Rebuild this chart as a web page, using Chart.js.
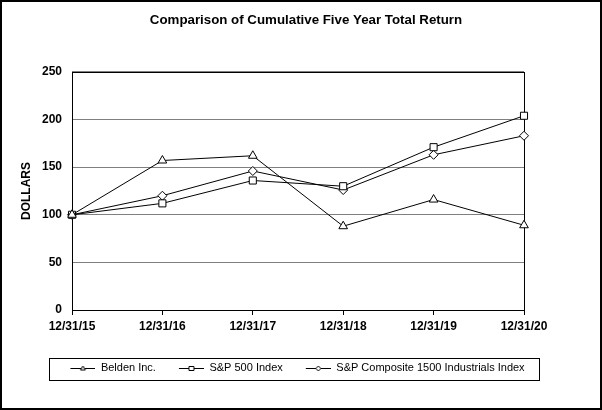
<!DOCTYPE html>
<html>
<head>
<meta charset="utf-8">
<script src="https://cdn.jsdelivr.net/npm/chart.js@4"></script>
<style>
  body { margin: 0; background: #fff; }
  #wrap { width: 602px; height: 410px; }
</style>
</head>
<body>
<div id="wrap"><canvas id="returns" width="602" height="410"></canvas></div>
<script>
// values
const years = ['12/31/15', '12/31/16', '12/31/17', '12/31/18', '12/31/19', '12/31/20'];
const belden = [100, 157, 162, 88, 116, 89];
const sp500 = [100, 112, 136, 130, 171, 204];
const sp1500Ind = [100, 120, 146, 126, 163, 183];
const seriesNames = ['Belden Inc.', 'S&P 500 Index', 'S&P Composite 1500 Industrials Index'];
const yTicks = [0, 50, 100, 150, 200, 250];

Chart.defaults.font.family = 'Arial, "Liberation Sans", sans-serif';
Chart.defaults.color = '#000';

// little line + marker used as legend symbol
function legendMark(shape) {
  const c = document.createElement('canvas');
  c.width = 38; c.height = 10;
  const g = c.getContext('2d');
  g.strokeStyle = '#000';
  g.lineWidth = 1;
  g.beginPath(); g.moveTo(13, 5.5); g.lineTo(38, 5.5); g.stroke();
  g.fillStyle = '#fff';
  g.beginPath();
  const cx = 25.5, cy = 5.5;
  if (shape == 'triangle') {
    g.moveTo(cx, cy - 2.5); g.lineTo(cx + 2.5, cy + 1.5); g.lineTo(cx - 2.5, cy + 1.5);
  } else if (shape == 'rect') {
    g.rect(cx - 2.5, cy - 2, 5, 4);
  } else {
    g.moveTo(cx, cy - 2.5); g.lineTo(cx + 2.5, cy); g.lineTo(cx, cy + 2.5); g.lineTo(cx - 2.5, cy);
  }
  g.closePath(); g.fill(); g.stroke();
  return c;
}
const legendMarks = [legendMark('triangle'), legendMark('rect'), legendMark('diamond')];

// plot box, legend box and outer frame
const frames = {
  id: 'frames',
  afterLayout(chart) {
    // legend in the original sits a bit left of the page centre
    chart.legend.left -= 15;
    chart.legend.right -= 15;
  },
  beforeDatasetsDraw(chart) {
    const a = chart.chartArea, ctx = chart.ctx;
    ctx.save();
    ctx.strokeStyle = '#000';
    ctx.lineWidth = 1;
    ctx.strokeRect(Math.round(a.left) + 0.5, Math.round(a.top) + 0.5,
      Math.round(a.right - a.left), Math.round(a.bottom - a.top));
    ctx.restore();
  },
  afterDraw(chart) {
    const a = chart.chartArea, lg = chart.legend, ctx = chart.ctx;
    ctx.save();
    ctx.strokeStyle = '#000';
    ctx.lineWidth = 1;
    ctx.strokeRect(Math.round(a.left) - 22.5, Math.round(lg.top + 5) + 0.5,
      Math.round(a.right - a.left) + 38, 22);
    ctx.lineWidth = 2;
    ctx.strokeRect(1, 1, chart.width - 2, chart.height - 2);
    ctx.restore();
  }
};

function lineSet(label, data, style, r) {
  return {
    label: label,
    data: data,
    borderColor: '#000',
    borderWidth: 1,
    backgroundColor: '#fff',
    pointStyle: style,
    pointRadius: r,
    pointBorderColor: '#000',
    pointBackgroundColor: '#fff',
    pointBorderWidth: 1,
    tension: 0,
    clip: false
  };
}

const returnsChart = new Chart(document.getElementById('returns'), {
  type: 'line',
  data: {
    labels: years,
    datasets: [
      lineSet(seriesNames[0], belden, 'triangle', 5),
      lineSet(seriesNames[1], sp500, 'rect', 5),
      lineSet(seriesNames[2], sp1500Ind, 'rectRot', 4.5)
    ]
  },
  options: {
    responsive: false,
    animation: false,
    devicePixelRatio: 1,
    layout: { padding: { left: 10, right: 0, top: 0, bottom: 26.5 } },
    scales: {
      x: {
        offset: false,
        grid: { drawOnChartArea: false, drawTicks: true, tickLength: 5, color: '#000' },
        border: { display: false },
        ticks: { font: { size: 12, weight: 'bold' }, padding: 4, maxRotation: 0 },
        afterFit: function(scale) { scale.height = 42.5; }
      },
      y: {
        min: yTicks[0],
        max: yTicks[yTicks.length - 1],
        grid: { color: '#808080', drawTicks: false },
        border: { display: false },
        ticks: { stepSize: yTicks[1] - yTicks[0], font: { size: 12, weight: 'bold' }, padding: 10 },
        title: { display: true, text: 'DOLLARS', font: { size: 12, weight: 'bold' }, padding: { top: 9.8, bottom: 0 } },
        afterFit: function(scale) { scale.width = 62; }
      },
      spacer: {
        position: 'right',
        display: true,
        grid: { display: false },
        border: { display: false },
        ticks: { display: false },
        afterFit: function(scale) { scale.width = 78; }
      }
    },
    plugins: {
      title: {
        display: true,
        text: 'Comparison of Cumulative Five Year Total Return',
        font: { size: 13.3, weight: 'bold' },
        padding: { top: 12.6, bottom: 43.4 }
      },
      legend: {
        position: 'bottom',
        labels: {
          usePointStyle: true,
          pointStyleWidth: 38,
          padding: 10,
          font: { size: 11 },
          generateLabels: function(chart) {
            const items = Chart.defaults.plugins.legend.labels.generateLabels(chart);
            items.forEach(function(it, i) { it.pointStyle = legendMarks[i]; });
            return items;
          }
        }
      },
      tooltip: { enabled: false }
    }
  },
  plugins: [frames]
});
</script>
</body>
</html>
